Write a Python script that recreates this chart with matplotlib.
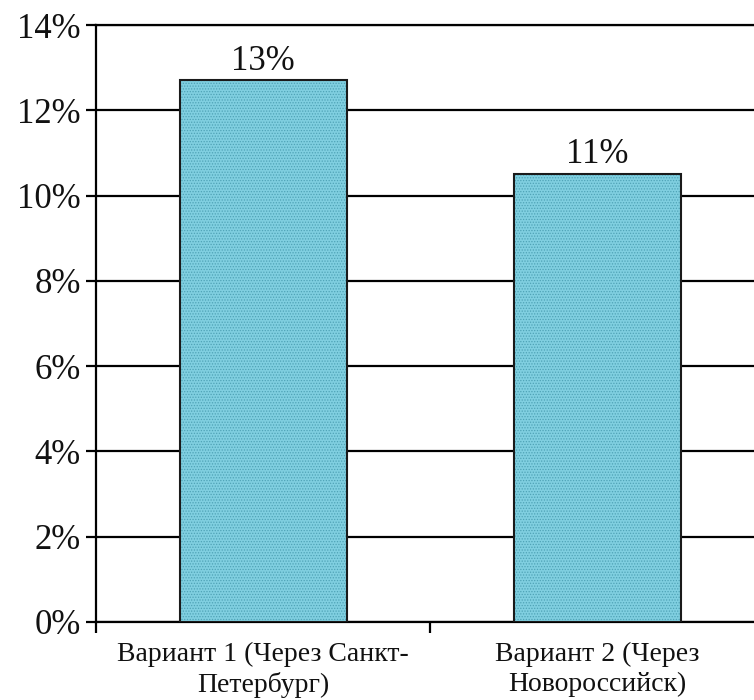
import matplotlib
matplotlib.use("Agg")
import matplotlib.pyplot as plt
from matplotlib.ticker import FixedLocator, PercentFormatter

# Data
categories = ["Вариант 1 (Через Санкт-\nПетербург)", "Вариант 2 (Через\nНовороссийск)"]
values = [12.7, 10.5]
bar_labels = ["13%", "11%"]

plt.rcParams['font.family'] = ['Liberation Serif', 'DejaVu Serif']
plt.rcParams['hatch.linewidth'] = 0.6

fig = plt.figure(figsize=(7.54, 7.0), dpi=100)
# right edge of the plot runs past the image, as in the reference
ax = fig.add_axes([96 / 754, 78 / 700, 668 / 754, 597 / 700])

x = list(range(len(categories)))

# hatched fill first, then a black outline on top
ax.bar(x, values, width=0.5, color='#80cfe0', edgecolor='#4fa3b6', hatch='......', linewidth=0, zorder=3)
ax.bar(x, values, width=0.5, fill=False, edgecolor='#1a1a1a', linewidth=1.5, zorder=4)

for xi, v, lab in zip(x, values, bar_labels):
    ax.annotate(lab, (xi, v), xytext=(0, 2), textcoords='offset points',
                ha='center', va='bottom', fontsize=25, color='#111111')

ax.set_xlim(-0.5, 1.5)
ax.set_ylim(0, 14)
ax.yaxis.set_major_locator(FixedLocator([0, 2, 4, 6, 8, 10, 12, 14]))
ax.yaxis.set_major_formatter(PercentFormatter(decimals=0))
ax.grid(axis='y', color='black', linewidth=1.6, zorder=1)
ax.set_axisbelow(True)

ax.set_xticks(x)
ax.set_xticklabels(categories, fontsize=20, linespacing=1.25, color='#111111')
ax.tick_params(axis='x', which='major', length=0, pad=14)
ax.set_xticks([-0.5, 0.5, 1.5], minor=True)
ax.tick_params(axis='x', which='minor', length=8, width=1.6, direction='out')
ax.tick_params(axis='y', labelsize=25, length=7, width=1.6, pad=4, labelcolor='#111111')

ax.spines['right'].set_visible(False)
for s in ['left', 'bottom', 'top']:
    ax.spines[s].set_linewidth(1.6)

fig.savefig('out.png', dpi=100)
